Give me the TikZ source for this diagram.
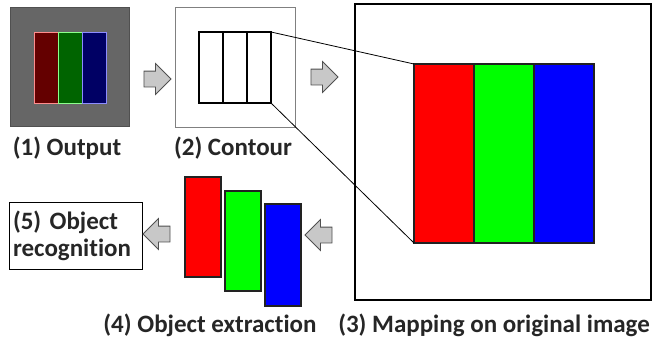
\documentclass[tikz,border=0pt]{standalone}
\usepackage{fontspec}
\setmainfont{Carlito}[Ligatures=NoCommon]
\usetikzlibrary{shapes.arrows}
\definecolor{pgray}{HTML}{666666}
\definecolor{pgrayline}{HTML}{505050}
\definecolor{dred}{HTML}{640000}
\definecolor{dgreen}{HTML}{006400}
\definecolor{dblue}{HTML}{000064}
\definecolor{lred}{HTML}{FF8C8C}
\definecolor{lgreen}{HTML}{8CFF8C}
\definecolor{lblue}{HTML}{8C8CFF}
\definecolor{arrowfill}{HTML}{C8C8C8}
\definecolor{arrowline}{HTML}{505050}
\definecolor{edgegray}{HTML}{222222}
\tikzset{
  box/.style={rectangle, inner sep=0pt, outer sep=0pt, anchor=north west},
  stripe/.style={box, minimum width=24pt, minimum height=71pt},
  bigstripe/.style={box, minimum width=60pt, minimum height=179pt, draw=edgegray, line width=1.6pt},
  barrow/.style={single arrow, fill=arrowfill, draw=arrowline, line width=0.8pt,
    inner xsep=0pt, inner ysep=7.5pt, single arrow head extend=7.5pt,
    minimum height=27pt, outer sep=0pt},
  lbl/.style={font=\fontsize{25}{28}\selectfont\bfseries, text=black!85, inner sep=0pt, anchor=base},
  link/.style={draw=black, line width=0.8pt}
}
\begin{document}
\begin{tikzpicture}[x=1pt, y=-1pt]
\useasboundingbox (0,0) rectangle (652,340);
% Panel 1
\node[box, minimum width=119pt, minimum height=119pt, fill=pgray, draw=pgrayline, line width=0.8pt] (p1) at (10,7) {};
\node[stripe, fill=dred, draw=lred, line width=1pt] (p1a) at (34,32) {};
\node[stripe, fill=dgreen, draw=lgreen, line width=1pt] (p1b) at (58,32) {};
\node[stripe, fill=dblue, draw=lblue, line width=1pt] (p1c) at (82,32) {};
% Panel 2
\node[box, minimum width=120pt, minimum height=120pt, draw=black!50, line width=0.8pt] (p2) at (175,7) {};
\node[stripe, draw=black, line width=1.3pt] (p2a) at (199,32) {};
\node[stripe, draw=black, line width=1.3pt] (p2b) at (223,32) {};
\node[stripe, draw=black, line width=1.3pt] (p2c) at (247,32) {};
% Panel 3
\node[box, minimum width=296pt, minimum height=296pt, draw=black, line width=1.5pt] (p3) at (355,4) {};
\node[bigstripe, fill=red] (p3a) at (414,64) {};
\node[bigstripe, fill=green] (p3b) at (474,64) {};
\node[bigstripe, fill=blue] (p3c) at (534,64) {};
% zoom lines
\draw[link] (p2c.north east) -- (p3a.north west);
\draw[link] (p2c.south east) -- (p3a.south west);
% Panel 4
\node[box, minimum width=36pt, minimum height=100pt, fill=red, draw=edgegray, line width=1.4pt] (p4a) at (185,177) {};
\node[box, minimum width=36pt, minimum height=100pt, fill=green, draw=edgegray, line width=1.4pt] (p4b) at (225,191) {};
\node[box, minimum width=36pt, minimum height=102pt, fill=blue, draw=edgegray, line width=1.4pt] (p4c) at (265,204) {};
% Box 5
\node[box, draw=black, line width=1pt, minimum height=67pt, text width=125pt, inner xsep=4pt,
  align=left, font=\fontsize{25}{27}\selectfont\bfseries, text=black!85] (p5) at (9,202) {(5) Object\\recognition};
% Block arrows
\node[barrow] (a1) at (153.5,79) {};
\node[barrow] (a2) at (320.5,77) {};
\node[barrow, shape border rotate=180] (a3) at (160.5,234) {};
\node[barrow, shape border rotate=180] (a4) at (322.5,235) {};
% Labels
\node[lbl] (l1) at (67,155) {(1) Output};
\node[lbl] (l2) at (233,155) {(2) Contour};
\node[lbl] (l3) at (494,332) {(3) Mapping on original image};
\node[lbl] (l4) at (210,332) {(4) Object extraction};
\end{tikzpicture}
\end{document}
